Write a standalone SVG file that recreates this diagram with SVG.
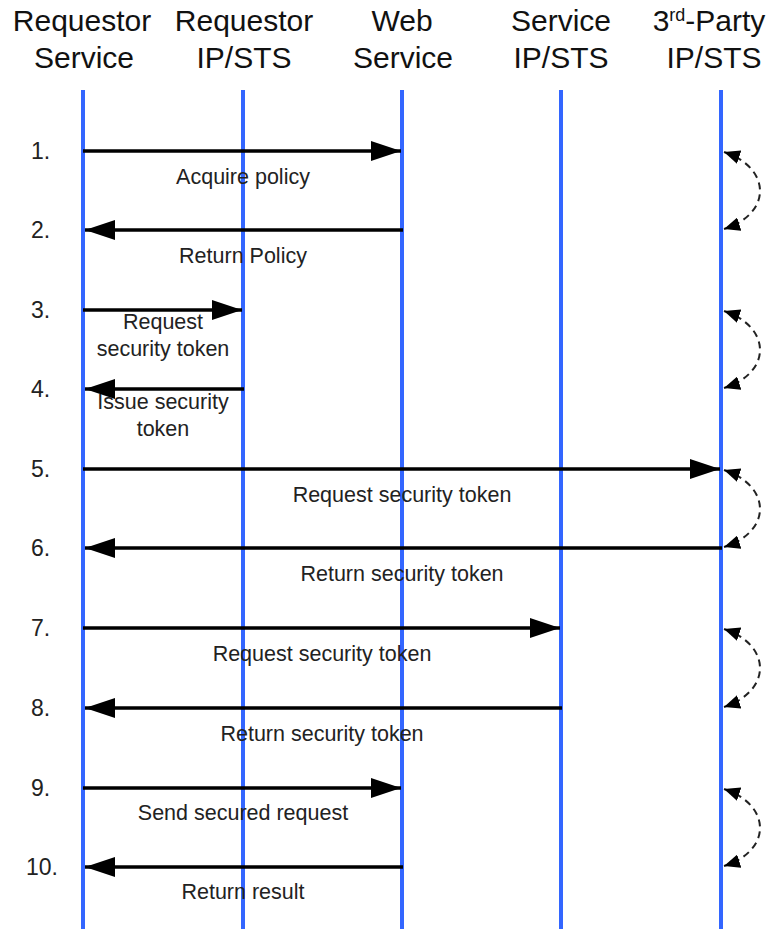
<svg xmlns="http://www.w3.org/2000/svg" width="775" height="929" viewBox="0 0 775 929">
<style>
.hdr{font-family:"Liberation Sans",Arial,sans-serif;font-size:30px;fill:#111;text-anchor:middle}
.num{font-family:"Liberation Sans",Arial,sans-serif;font-size:23px;fill:#222}
.lbl{font-family:"Liberation Sans",Arial,sans-serif;font-size:21.5px;fill:#222;text-anchor:middle}
.life{stroke:#3366ff;stroke-width:4}
.msg{stroke:#000;stroke-width:3.5;fill:none}
.loop{stroke:#222;stroke-width:2;stroke-dasharray:7,5;fill:none}
</style>
<defs>
<marker id="ah" viewBox="0 0 30 20" refX="30" refY="10" markerWidth="30" markerHeight="20" markerUnits="userSpaceOnUse" orient="auto">
<path d="M0,0 L30,10 L0,20 Z" fill="#000"/>
</marker>
<marker id="la" viewBox="0 0 16 14" refX="16" refY="7" markerWidth="16" markerHeight="14" markerUnits="userSpaceOnUse" orient="auto-start-reverse">
<path d="M0,0 L16,7 L0,14 Z" fill="#000"/>
</marker>
</defs>
<rect width="775" height="929" fill="#fff"/>
<g id="requestor-service">
<text class="hdr" x="82" y="31">Requestor</text>
<text class="hdr" x="84" y="68">Service</text>
<line class="life" x1="83" y1="90" x2="83" y2="929"/>
</g>
<g id="requestor-ipsts">
<text class="hdr" x="244" y="31">Requestor</text>
<text class="hdr" x="244" y="68">IP/STS</text>
<line class="life" x1="243" y1="90" x2="243" y2="929"/>
</g>
<g id="web-service">
<text class="hdr" x="402" y="31">Web</text>
<text class="hdr" x="403" y="68">Service</text>
<line class="life" x1="402" y1="90" x2="402" y2="929"/>
</g>
<g id="service-ipsts">
<text class="hdr" x="561" y="31">Service</text>
<text class="hdr" x="561" y="68">IP/STS</text>
<line class="life" x1="561" y1="90" x2="561" y2="929"/>
</g>
<g id="third-party-ipsts">
<text class="hdr" x="709" y="31">3<tspan font-size="18" dy="-10">rd</tspan><tspan dy="10">-Party</tspan></text>
<text class="hdr" x="714" y="68">IP/STS</text>
<line class="life" x1="721" y1="90" x2="721" y2="929"/>
</g>
<g id="step-numbers">
<text class="num" x="31" y="159">1.</text>
<text class="num" x="31" y="238">2.</text>
<text class="num" x="31" y="318">3.</text>
<text class="num" x="31" y="397">4.</text>
<text class="num" x="31" y="477">5.</text>
<text class="num" x="31" y="556">6.</text>
<text class="num" x="31" y="636">7.</text>
<text class="num" x="31" y="716">8.</text>
<text class="num" x="31" y="796">9.</text>
<text class="num" x="26" y="875">10.</text>
</g>
<g id="connectors">
<line class="msg" x1="83" y1="151" x2="401" y2="151" marker-end="url(#ah)"/>
<line class="msg" x1="403" y1="230" x2="85" y2="230" marker-end="url(#ah)"/>
<line class="msg" x1="83" y1="310" x2="242" y2="310" marker-end="url(#ah)"/>
<line class="msg" x1="244" y1="389" x2="85" y2="389" marker-end="url(#ah)"/>
<line class="msg" x1="83" y1="469" x2="720" y2="469" marker-end="url(#ah)"/>
<line class="msg" x1="722" y1="548" x2="85" y2="548" marker-end="url(#ah)"/>
<line class="msg" x1="83" y1="628" x2="560" y2="628" marker-end="url(#ah)"/>
<line class="msg" x1="562" y1="708" x2="85" y2="708" marker-end="url(#ah)"/>
<line class="msg" x1="83" y1="788" x2="401" y2="788" marker-end="url(#ah)"/>
<line class="msg" x1="403" y1="867" x2="85" y2="867" marker-end="url(#ah)"/>
<path class="loop" d="M724,152 C772,168 772,214 724,229" marker-start="url(#la)" marker-end="url(#la)"/>
<path class="loop" d="M724,311 C772,327 772,373 724,388" marker-start="url(#la)" marker-end="url(#la)"/>
<path class="loop" d="M724,470 C772,486 772,532 724,547" marker-start="url(#la)" marker-end="url(#la)"/>
<path class="loop" d="M724,629 C772,645 772,691 724,707" marker-start="url(#la)" marker-end="url(#la)"/>
<path class="loop" d="M724,789 C772,805 772,851 724,866" marker-start="url(#la)" marker-end="url(#la)"/>
</g>
<g id="labels">
<text class="lbl" x="243" y="184">Acquire policy</text>
<text class="lbl" x="243" y="263">Return Policy</text>
<text class="lbl" x="163" y="329">Request</text>
<text class="lbl" x="163" y="356">security token</text>
<text class="lbl" x="163" y="409">Issue security</text>
<text class="lbl" x="163" y="436">token</text>
<text class="lbl" x="402" y="502">Request security token</text>
<text class="lbl" x="402" y="581">Return security token</text>
<text class="lbl" x="322" y="661">Request security token</text>
<text class="lbl" x="322" y="741">Return security token</text>
<text class="lbl" x="243" y="820">Send secured request</text>
<text class="lbl" x="243" y="899">Return result</text>
</g>
</svg>
